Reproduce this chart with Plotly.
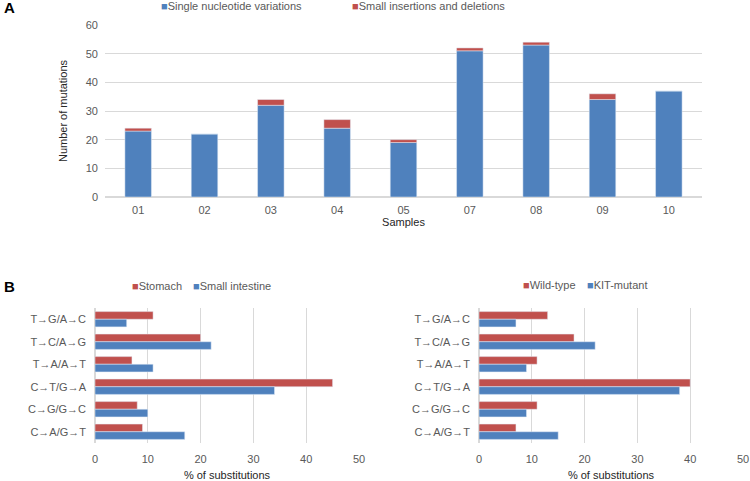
"""Mutation counts per sample and substitution spectra (panels A and B)."""

import plotly.graph_objects as go

# Panel A data
SAMPLES = ['01', '02', '03', '04', '05', '07', '08', '09', '10']
SNV = [23, 22, 32, 24, 19, 51, 53, 34, 37]
INDEL = [1, 0, 2, 3, 1, 1, 1, 2, 0]

# Panel B data (top to bottom)
SUBSTITUTIONS = ['T→G/A→C', 'T→C/A→G', 'T→A/A→T', 'C→T/G→A', 'C→G/G→C', 'C→A/G→T']
STOMACH = [11, 20, 7, 45, 8, 9]
SMALL_INTESTINE = [6, 22, 11, 34, 10, 17]
WILD_TYPE = [13, 18, 11, 40, 11, 7]
KIT_MUTANT = [7, 22, 9, 38, 9, 15]

BLUE = '#4F81BD'
RED = '#C0504D'
GRID = '#D9D9D9'
TICK = '#595959'
FONT = 'Liberation Sans, Arial, sans-serif'

W, H = 750, 481


def px(x):
    return x / W


def py(y):
    return 1 - y / H


fig = go.Figure()

# Panel A: stacked bars (indels sit on top of SNVs)
fig.add_trace(go.Bar(x=SAMPLES, y=SNV, name='Single nucleotide variations',
                     marker=dict(color=BLUE), width=0.4, offsetgroup='a',
                     xaxis='x', yaxis='y'))
fig.add_trace(go.Bar(x=SAMPLES, y=INDEL, base=SNV, name='Small insertions and deletions',
                     marker=dict(color=RED), width=0.4, offsetgroup='a',
                     xaxis='x', yaxis='y'))

# Panel B left
fig.add_trace(go.Bar(y=SUBSTITUTIONS, x=STOMACH, name='Stomach', orientation='h',
                     marker=dict(color=RED), xaxis='x2', yaxis='y2'))
fig.add_trace(go.Bar(y=SUBSTITUTIONS, x=SMALL_INTESTINE, name='Small intestine', orientation='h',
                     marker=dict(color=BLUE), xaxis='x2', yaxis='y2'))

# Panel B right
fig.add_trace(go.Bar(y=SUBSTITUTIONS, x=WILD_TYPE, name='Wild-type', orientation='h',
                     marker=dict(color=RED), xaxis='x3', yaxis='y3'))
fig.add_trace(go.Bar(y=SUBSTITUTIONS, x=KIT_MUTANT, name='KIT-mutant', orientation='h',
                     marker=dict(color=BLUE), xaxis='x3', yaxis='y3'))

tickfont = dict(family=FONT, size=11, color=TICK)
titlefont = dict(family=FONT, size=11, color='#262626')

fig.update_layout(
    width=W, height=H,
    margin=dict(l=0, r=0, t=0, b=0),
    paper_bgcolor='white', plot_bgcolor='white',
    font=dict(family=FONT),
    showlegend=False,
    barmode='group',
    bargap=0.32,
    bargroupgap=0,
    xaxis=dict(domain=[px(105), px(702)], anchor='y', tickfont=tickfont,
               showgrid=False, showline=False, ticks='', ticklabelstandoff=5,
               title=dict(text='Samples', font=titlefont, standoff=0)),
    yaxis=dict(domain=[py(197), py(25)], anchor='x', range=[0, 60], dtick=10,
               tickfont=tickfont, gridcolor=GRID, zeroline=True, zerolinecolor=GRID,
               ticks='', ticklabelstandoff=6,
               title=dict(text='Number of mutations', font=titlefont, standoff=15)),
    xaxis2=dict(domain=[px(95), px(359)], anchor='y2', range=[0, 50], dtick=10,
                tickfont=tickfont, gridcolor=GRID, zeroline=True, zerolinecolor=GRID,
                ticks='', ticklabelstandoff=8,
                title=dict(text='% of substitutions', font=titlefont, standoff=9)),
    yaxis2=dict(domain=[py(443), py(308)], anchor='x2', autorange='reversed',
                tickfont=tickfont, showgrid=False, ticks='', ticklabelstandoff=8),
    xaxis3=dict(domain=[px(479), px(743)], anchor='y3', range=[0, 50], dtick=10,
                tickfont=tickfont, gridcolor=GRID, zeroline=True, zerolinecolor=GRID,
                ticks='', ticklabelstandoff=8,
                title=dict(text='% of substitutions', font=titlefont, standoff=9)),
    yaxis3=dict(domain=[py(443), py(308)], anchor='x3', autorange='reversed',
                tickfont=tickfont, showgrid=False, ticks='', ticklabelstandoff=8),
)
# keep the hand-placed domains: no automatic margin growth
fig.update_xaxes(automargin=False)
fig.update_yaxes(automargin=False)

legend_font = dict(family=FONT, size=11, color=TICK)
annotations = [
    dict(x=px(2), y=py(7), text='<b>A</b>', font=dict(family=FONT, size=15, color='black')),
    dict(x=px(2), y=py(286), text='<b>B</b>', font=dict(family=FONT, size=15, color='black')),
    dict(x=px(159), y=py(6), text=f'<span style="color:{BLUE}">■</span>Single nucleotide variations',
         font=legend_font),
    dict(x=px(350), y=py(6), text=f'<span style="color:{RED}">■</span>Small insertions and deletions',
         font=legend_font),
    dict(x=px(130), y=py(286), text=f'<span style="color:{RED}">■</span>Stomach', font=legend_font),
    dict(x=px(191), y=py(286), text=f'<span style="color:{BLUE}">■</span>Small intestine',
         font=legend_font),
    dict(x=px(521), y=py(285), text=f'<span style="color:{RED}">■</span>Wild-type', font=legend_font),
    dict(x=px(585), y=py(285), text=f'<span style="color:{BLUE}">■</span>KIT-mutant',
         font=legend_font),
]
for a in annotations:
    a.update(xref='paper', yref='paper', xanchor='left', yanchor='middle', showarrow=False)
fig.update_layout(annotations=annotations)

# the page body has an 8px default margin; drop it so the figure fills the window
fig.write_html('out.html', config={'displayModeBar': False},
               post_script="document.body.style.margin='0';")
